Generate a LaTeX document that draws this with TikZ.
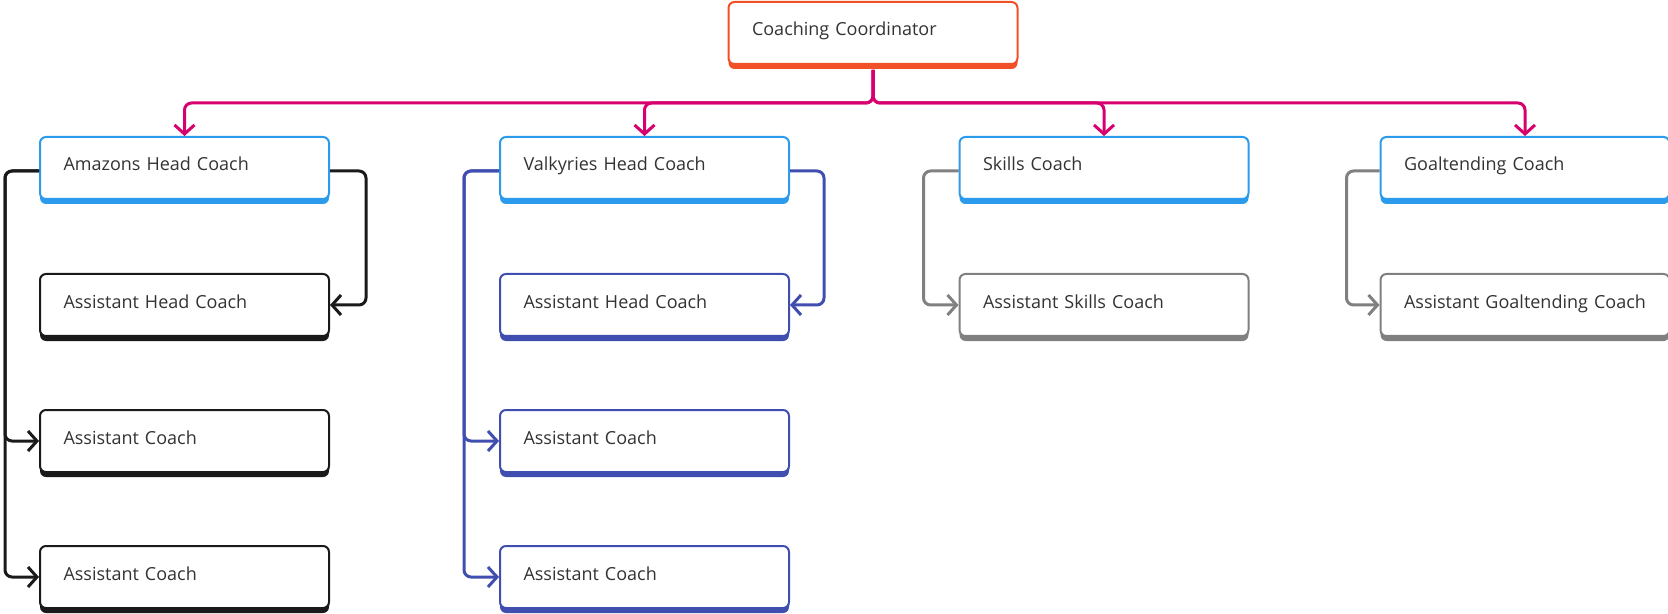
\documentclass[tikz,border=0pt]{standalone}
\usepackage{fontspec}
\setmainfont{Open Sans}
\usetikzlibrary{arrows.meta}

\definecolor{coordred}{RGB}{242,80,40}
\definecolor{busred}{RGB}{214,0,110}
\definecolor{headblue}{RGB}{45,155,235}
\definecolor{ink}{RGB}{26,26,26}
\definecolor{valblue}{RGB}{64,78,176}
\definecolor{midgrey}{RGB}{128,128,128}
\definecolor{txtgrey}{RGB}{51,51,51}

\begin{document}
\begin{tikzpicture}[
  x=0.5pt, y=-0.5pt,
  box/.style={
    draw=#1, fill=white, line width=1pt, rounded corners=3pt,
    preaction={fill=#1, transform canvas={yshift=-2.5pt}},
    minimum width=144.5pt, minimum height=31pt,
    inner xsep=11.5pt, inner ysep=0pt,
    text width=121pt, align=left,
    text height=7pt, text depth=4pt,
    font=\fontsize{9}{11}\selectfont, text=txtgrey},
  link/.style={
    draw=#1, line width=1.5pt, rounded corners=3.5pt,
    -{Straight Barb[length=4.5pt,width=10pt]}},
]
\useasboundingbox (0,0) rectangle (1668,614);

% top
\node[box=coordred] (coord) at (873,33) {Coaching Coordinator};

% heads
\node[box=headblue] (amh) at (184.5,168) {Amazons Head Coach};
\node[box=headblue] (vhc) at (644.5,168) {Valkyries Head Coach};
\node[box=headblue] (shc) at (1104,168) {Skills Coach};
\node[box=headblue] (ghc) at (1525,168) {Goaltending Coach};

% Amazons staff
\node[box=ink] (aahc) at (184.5,305) {Assistant Head Coach};
\node[box=ink] (aac1) at (184.5,441) {Assistant Coach};
\node[box=ink] (aac2) at (184.5,577) {Assistant Coach};

% Valkyries staff
\node[box=valblue] (vahc) at (644.5,305) {Assistant Head Coach};
\node[box=valblue] (vac1) at (644.5,441) {Assistant Coach};
\node[box=valblue] (vac2) at (644.5,577) {Assistant Coach};

% specialists
\node[box=midgrey] (sac) at (1104,305) {Assistant Skills Coach};
\node[box=midgrey] (gac) at (1525,305) {Assistant Goaltending Coach};

% coordinator to heads
\foreach \h in {amh,vhc,shc,ghc}
  \draw[link=busred, shorten <=2.5pt] (coord.south) -- ++(0,38) -| (\h.north);

% Amazons
\draw[link=ink] ([yshift=-1.5pt]amh.east) -- ++(36,0) |- (aahc.east);
\foreach \a in {aac1,aac2}
  \draw[link=ink] ([yshift=-1.5pt]amh.west) -- ++(-34,0) |- (\a.west);

% Valkyries
\draw[link=valblue] ([yshift=-1.5pt]vhc.east) -- ++(34,0) |- (vahc.east);
\foreach \a in {vac1,vac2}
  \draw[link=valblue] ([yshift=-1.5pt]vhc.west) -- ++(-35,0) |- (\a.west);

% skills, goaltending
\draw[link=midgrey] ([yshift=-1.5pt]shc.west) -- ++(-35,0) |- (sac.west);
\draw[link=midgrey] ([yshift=-1.5pt]ghc.west) -- ++(-33,0) |- (gac.west);
\end{tikzpicture}
\end{document}
